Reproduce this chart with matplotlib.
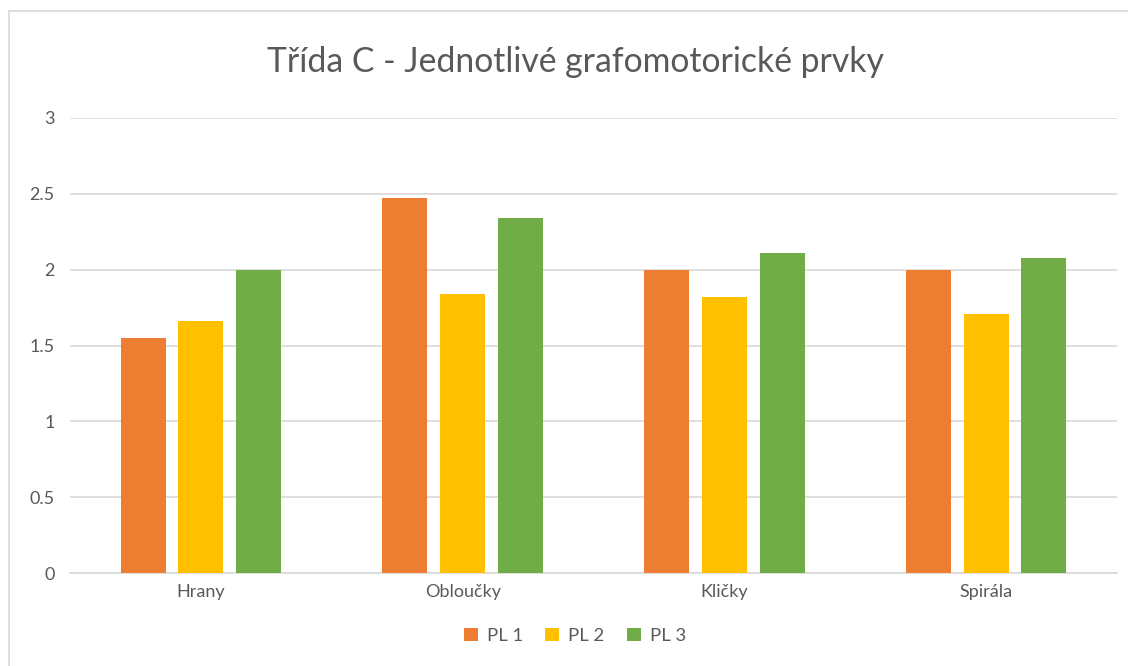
#!/usr/bin/env python3
"""Grouped bar chart: Trida C - grafomotoricke prvky."""

import matplotlib
matplotlib.use("Agg")
import matplotlib.pyplot as plt
import numpy as np
from matplotlib.patches import Rectangle


CATEGORIES = ["Hrany", "Obloučky", "Kličky", "Spirála"]
SERIES = ["PL 1", "PL 2", "PL 3"]
PL1 = [1.55, 2.47, 2.0, 2.0]
PL2 = [1.66, 1.84, 1.82, 1.71]
PL3 = [2.0, 2.34, 2.11, 2.08]
COLORS = ["#ED7D31", "#FFC000", "#70AD47"]
TEXT = "#595959"


def main():
    plt.rcParams["font.family"] = ["Lato", "DejaVu Sans"]
    fig = plt.figure(figsize=(11.28, 6.66), dpi=100)
    fig.patches.append(Rectangle((9 / 1128, -0.1), 1.2, 1.1 - 11 / 666,
                                 transform=fig.transFigure, fill=False,
                                 edgecolor="#D9D9D9", linewidth=1.2))
    ax = fig.add_axes([70 / 1128, 1 - 573 / 666, 1047 / 1128, 455 / 666])

    x = np.arange(len(CATEGORIES))
    width = 0.172
    step = 0.221
    for i, (name, values) in enumerate(zip(SERIES, [PL1, PL2, PL3])):
        ax.bar(x + (i - 1) * step, values, width, color=COLORS[i], label=name,
               zorder=3)

    ax.set_xlim(-0.5, len(CATEGORIES) - 0.5)
    ax.set_ylim(0, 3)
    ax.set_yticks([0, 0.5, 1, 1.5, 2, 2.5, 3])
    ax.set_yticklabels(["0", "0.5", "1", "1.5", "2", "2.5", "3"])
    ax.set_xticks(x)
    ax.set_xticklabels(CATEGORIES)
    ax.yaxis.grid(True, color="#D9D9D9", linewidth=1.2, zorder=0)
    ax.tick_params(axis="both", length=0, labelsize=13, colors=TEXT)
    ax.tick_params(axis="y", pad=11)
    ax.tick_params(axis="x", pad=8)
    for side in ["top", "right", "left"]:
        ax.spines[side].set_visible(False)
    ax.spines["bottom"].set_color("#D9D9D9")
    ax.spines["bottom"].set_linewidth(1.2)

    fig.text(575 / 1128, 1 - 62 / 666, "Třída C - Jednotlivé grafomotorické prvky",
             ha="center", va="center", fontsize=24.3, color=TEXT)
    fig.legend(loc="center", bbox_to_anchor=(575 / 1128, 1 - 636 / 666), ncol=3,
               frameon=False, fontsize=13.3, labelcolor=TEXT,
               handlelength=0.75, handleheight=0.75, handletextpad=0.5,
               columnspacing=1.2)

    fig.savefig("out.png", dpi=100)


if __name__ == "__main__":
    main()
